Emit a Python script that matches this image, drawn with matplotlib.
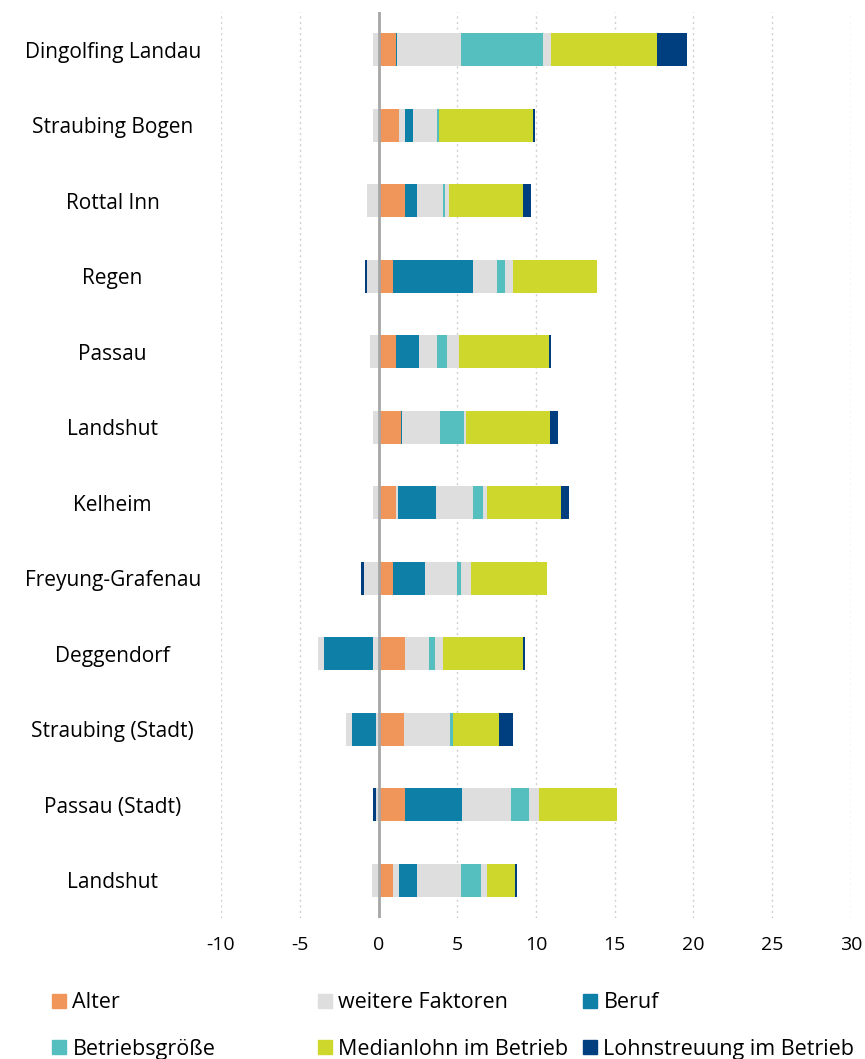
import matplotlib.pyplot as plt
import numpy as np
from matplotlib.patches import Patch

plt.rcParams['font.family'] = ['Open Sans', 'DejaVu Sans']

regions = ['Dingolfing Landau', 'Straubing Bogen', 'Rottal Inn', 'Regen', 'Passau', 'Landshut',
           'Kelheim', 'Freyung-Grafenau', 'Deggendorf', 'Straubing (Stadt)', 'Passau (Stadt)', 'Landshut']

# positive contributions, in stacking order from 0 to the right
alter     = [1.08, 1.33, 1.71, 0.95, 1.08, 1.46, 1.08, 0.95, 1.71, 1.59, 1.71, 0.95]
weitere_a = [0.00, 0.38, 0.00, 0.00, 0.00, 0.00, 0.13, 0.00, 0.00, 0.00, 0.00, 0.38]
beruf     = [0.12, 0.50, 0.76, 5.08, 1.52, 0.05, 2.41, 2.03, 0.00, 0.00, 3.56, 1.14]
weitere_b = [4.04, 1.52, 1.65, 1.52, 1.14, 2.41, 2.41, 2.03, 1.52, 2.92, 3.17, 2.79]
betrieb   = [5.23, 0.13, 0.13, 0.51, 0.63, 1.52, 0.63, 0.25, 0.38, 0.25, 1.14, 1.27]
weitere_c = [0.51, 0.00, 0.25, 0.51, 0.76, 0.13, 0.25, 0.63, 0.51, 0.00, 0.63, 0.38]
median    = [6.71, 5.97, 4.70, 5.33, 5.71, 5.33, 4.70, 4.83, 5.08, 2.92, 4.95, 1.78]
lohn      = [1.90, 0.13, 0.51, 0.00, 0.13, 0.50, 0.51, 0.00, 0.13, 0.89, 0.00, 0.13]

# negative contributions, stacking from 0 to the left
weitere_neg_a = [-0.32, -0.32, -0.70, -0.70, -0.57, -0.32, -0.32, -0.95, -0.32, -0.19, -0.19, -0.44]
beruf_neg     = [0, 0, 0, 0, 0, 0, 0, 0, -3.17, -1.52, 0, 0]
weitere_neg_b = [0, 0, 0, 0, 0, 0, 0, 0, -0.38, -0.38, 0, 0]
lohn_neg      = [0, 0, 0, -0.13, 0, 0, 0, -0.13, 0, 0, -0.13, 0]

xticks = [-10, -5, 0, 5, 10, 15, 20, 25, 30]

c_alter = '#F0965A'
c_weitere = '#DEDEDE'
c_beruf = '#0E7FA6'
c_betrieb = '#55BFC0'
c_median = '#CDD72C'
c_lohn = '#003F7F'

fig = plt.figure(figsize=(8.65, 10.59), dpi=100)
ax = fig.add_axes([0.2555, 0.1331, 0.7283, 0.8555])

y = np.arange(len(regions))
h = 0.44

pos = [(alter, c_alter), (weitere_a, c_weitere), (beruf, c_beruf), (weitere_b, c_weitere),
       (betrieb, c_betrieb), (weitere_c, c_weitere), (median, c_median), (lohn, c_lohn)]
left = np.zeros(len(regions))
for vals, col in pos:
    vals = np.array(vals)
    ax.barh(y, vals, h, left=left, color=col, zorder=3)
    left += vals

neg = [(weitere_neg_a, c_weitere), (beruf_neg, c_beruf), (weitere_neg_b, c_weitere), (lohn_neg, c_lohn)]
left = np.zeros(len(regions))
for vals, col in neg:
    vals = np.array(vals)
    ax.barh(y, vals, h, left=left, color=col, zorder=3)
    left += vals

ax.set_xlim(-10, 30)
ax.set_ylim(len(regions) - 0.5, -0.5)
ax.set_xticks(xticks)
ax.set_xticklabels([str(t) for t in xticks], fontsize=14)
for t in xticks:
    if t == 0:
        ax.axvline(0, color='#A6A6A6', lw=2, zorder=4)
    else:
        ax.axvline(t, color='#D0D0D0', lw=1, ls=(0, (1.5, 2.5)), zorder=1)

ax.set_yticks(y)
ax.set_yticklabels(regions, fontsize=15, ha='center')
ax.tick_params(axis='y', length=0, pad=78)
ax.tick_params(axis='x', length=0, pad=13)
for s in ax.spines.values():
    s.set_visible(False)

# legend: 3 columns x 2 rows, equal column widths like the original
columns = [[('Alter', c_alter), ('Betriebsgröße', c_betrieb)],
           [('weitere Faktoren', c_weitere), ('Medianlohn im Betrieb', c_median)],
           [('Beruf', c_beruf), ('Lohnstreuung im Betrieb', c_lohn)]]
col_x = [52, 318, 583]
for cx, entries in zip(col_x, columns):
    handles = [Patch(color=c, label=l) for l, c in entries]
    leg = fig.legend(handles=handles, loc='upper left', bbox_to_anchor=(cx / 865, 0.063),
                     frameon=False, fontsize=15.5, handlelength=0.65, handleheight=0.65,
                     handletextpad=0.3, labelspacing=1.18, borderpad=0, borderaxespad=0)

plt.savefig('out.png', dpi=100)
